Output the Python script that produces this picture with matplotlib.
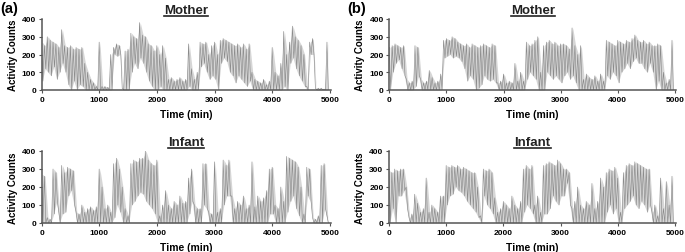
import numpy as np
import matplotlib
matplotlib.use("Agg")
import matplotlib.pyplot as plt
from matplotlib.lines import Line2D

plt.rcParams['font.family'] = ['Liberation Sans', 'DejaVu Sans']

# bin starts (minutes), 50-min bins; hi = peak, lo = trough
bin_minutes = list(range(0, 5000, 50))

a_mother_hi = [270, 250, 300, 280, 270, 260, 240, 340, 250, 240,
               250, 230, 240, 230, 240, 150, 100, 60, 40, 20,
               270, 20, 20, 15, 200, 240, 260, 250, 10, 220,
               230, 320, 300, 290, 380, 310, 300, 260, 250, 220,
               250, 200, 250, 180, 60, 70, 50, 60, 70, 50,
               60, 260, 120, 60, 100, 270, 260, 270, 200, 250,
               270, 200, 280, 290, 280, 270, 260, 250, 260, 240,
               260, 230, 260, 100, 60, 50, 40, 60, 30, 50,
               240, 100, 80, 150, 330, 200, 270, 360, 300, 280,
               250, 200, 20, 270, 290, 10, 10, 10, 5, 270]
a_mother_lo = [50, 120, 100, 80, 130, 60, 100, 150, 100, 30,
               0, 50, 0, 30, 20, 0, 0, 0, 0, 0,
               0, 0, 0, 0, 0, 200, 190, 200, 0, 0,
               0, 100, 150, 120, 180, 150, 100, 50, 20, 0,
               0, 20, 0, 0, 0, 0, 0, 0, 0, 0,
               0, 20, 0, 0, 0, 130, 150, 100, 60, 80,
               60, 0, 150, 180, 160, 100, 80, 40, 80, 60,
               40, 20, 50, 0, 0, 0, 0, 0, 0, 0,
               0, 0, 0, 0, 20, 0, 150, 180, 120, 80,
               50, 20, 0, 200, 200, 0, 0, 0, 0, 0]

b_mother_hi = [240, 250, 260, 250, 240, 250, 60, 40, 50, 250,
               240, 60, 40, 50, 110, 70, 40, 50, 90, 280,
               290, 280, 300, 290, 270, 260, 250, 260, 240, 260,
               250, 240, 250, 260, 250, 240, 260, 250, 40, 50,
               90, 40, 50, 40, 150, 50, 100, 50, 270, 250,
               260, 280, 300, 100, 250, 270, 280, 260, 270, 250,
               260, 260, 250, 230, 350, 250, 200, 250, 60, 90,
               70, 60, 80, 50, 90, 50, 280, 270, 260, 250,
               280, 270, 260, 280, 270, 290, 310, 280, 270, 280,
               260, 270, 250, 250, 260, 250, 100, 40, 60, 280]
b_mother_lo = [0, 100, 150, 170, 120, 80, 0, 0, 0, 20,
               80, 0, 0, 0, 0, 0, 0, 0, 0, 180,
               190, 200, 180, 190, 180, 160, 120, 50, 80, 60,
               0, 10, 30, 80, 60, 50, 60, 40, 0, 0,
               0, 0, 0, 0, 0, 0, 0, 0, 60, 100,
               80, 60, 0, 0, 0, 100, 80, 60, 80, 60,
               40, 80, 100, 60, 80, 40, 0, 0, 0, 0,
               0, 0, 0, 0, 0, 0, 80, 60, 100, 80,
               40, 100, 120, 150, 120, 160, 180, 150, 150, 120,
               100, 150, 100, 0, 50, 0, 0, 0, 0, 0]

a_infant_hi = [270, 260, 30, 20, 300, 280, 60, 320, 280, 310,
               300, 290, 60, 50, 100, 60, 80, 90, 70, 90,
               300, 200, 80, 100, 60, 330, 360, 300, 200, 80,
               40, 330, 350, 340, 360, 360, 400, 350, 330, 320,
               350, 40, 100, 180, 100, 80, 120, 100, 150, 110,
               120, 250, 300, 100, 80, 80, 330, 330, 60, 50,
               340, 60, 80, 350, 320, 350, 150, 80, 120, 100,
               150, 80, 100, 340, 90, 150, 120, 140, 180, 300,
               310, 100, 80, 200, 120, 370, 360, 350, 340, 310,
               200, 50, 310, 300, 30, 20, 40, 320, 330, 40]
a_infant_lo = [0, 0, 0, 0, 50, 120, 0, 50, 60, 150,
               180, 100, 0, 0, 0, 0, 0, 0, 0, 0,
               0, 0, 0, 0, 0, 30, 100, 60, 0, 0,
               0, 100, 120, 150, 170, 160, 120, 100, 80, 50,
               0, 0, 0, 0, 0, 0, 0, 0, 0, 0,
               0, 50, 120, 0, 0, 0, 100, 80, 0, 0,
               0, 0, 0, 100, 150, 150, 0, 0, 0, 0,
               0, 0, 0, 0, 0, 0, 0, 0, 0, 50,
               50, 0, 0, 0, 0, 60, 120, 150, 80, 40,
               0, 0, 150, 120, 0, 0, 0, 0, 80, 0]

b_infant_hi = [290, 280, 300, 290, 300, 300, 200, 30, 50, 160,
               110, 60, 80, 250, 60, 100, 80, 60, 150, 150,
               320, 310, 320, 310, 320, 300, 310, 300, 290, 280,
               280, 200, 40, 300, 290, 300, 280, 140, 60, 80,
               120, 100, 80, 150, 100, 80, 120, 300, 320, 300,
               320, 100, 150, 60, 320, 330, 340, 330, 320, 350,
               330, 300, 300, 280, 80, 120, 200, 100, 80, 120,
               100, 220, 80, 120, 250, 200, 280, 300, 290, 310,
               250, 60, 280, 320, 330, 320, 340, 330, 320, 310,
               300, 300, 60, 100, 40, 250, 80, 230, 100, 260]
b_infant_lo = [0, 80, 0, 150, 150, 180, 80, 0, 0, 0,
               0, 0, 0, 0, 0, 0, 0, 0, 0, 0,
               100, 150, 160, 200, 180, 170, 150, 120, 100, 80,
               60, 30, 0, 150, 100, 80, 50, 0, 0, 0,
               0, 0, 0, 0, 0, 0, 0, 60, 100, 80,
               50, 0, 0, 0, 50, 50, 80, 150, 120, 100,
               150, 150, 220, 100, 0, 0, 0, 0, 0, 0,
               0, 0, 0, 0, 0, 0, 60, 100, 50, 80,
               0, 0, 80, 100, 120, 150, 100, 80, 120, 100,
               60, 100, 0, 0, 0, 0, 0, 0, 0, 0]

x_ticks = [0, 1000, 2000, 3000, 4000, 5000]
y_ticks = [0, 100, 200, 300, 400]
titles = ["Mother", "Infant"]
panel_labels = ["(a)", "(b)"]

W, H = 685, 253
fig = plt.figure(figsize=(W / 100, H / 100), dpi=100)

def axrect(x0, y0, x1, y1):
    return [x0 / W, 1 - y1 / H, (x1 - x0) / W, (y1 - y0) / H]

rects = {
    ("a", 0): axrect(41.5, 20, 331, 91),
    ("b", 0): axrect(389.3, 20, 676.0, 91),
    ("a", 1): axrect(41.5, 152, 331, 224),
    ("b", 1): axrect(389.0, 152, 676.0, 224),
}
data = {
    ("a", 0): (a_mother_hi, a_mother_lo),
    ("b", 0): (b_mother_hi, b_mother_lo),
    ("a", 1): (a_infant_hi, a_infant_lo),
    ("b", 1): (b_infant_hi, b_infant_lo),
}

title_texts = []
for (col, row), rect in rects.items():
    ax = fig.add_axes(rect)
    hi, lo = data[(col, row)]
    bx = np.array(bin_minutes, dtype=float)
    xs = np.empty(2 * len(bx)); ys = np.empty(2 * len(bx))
    xs[0::2] = bx; xs[1::2] = bx + 25
    ys[0::2] = hi; ys[1::2] = lo
    ax.fill_between(bx + 12.5, lo, hi, color='#d6d6d6', lw=0)
    ax.plot(xs, ys, color='#8a8a8a', lw=0.45)
    ax.set_xlim(0, 5020)
    ax.set_ylim(0, 400)
    ax.set_xticks(x_ticks)
    ax.set_yticks(y_ticks)
    for s in ['top', 'right']:
        ax.spines[s].set_visible(False)
    for s in ['left', 'bottom']:
        ax.spines[s].set_color('#555555')
        ax.spines[s].set_linewidth(1.1)
    ax.tick_params(axis='both', labelsize=6, length=2, width=0.8, color='#555555', pad=2)
    for lab in ax.get_xticklabels() + ax.get_yticklabels():
        lab.set_fontweight('bold')
    ax.set_xlabel("Time (min)", fontsize=7.5, fontweight='bold', labelpad=5)
    ax.set_ylabel("Activity Counts", fontsize=7, fontweight='bold', labelpad=3)
    t = ax.set_title(titles[row], fontsize=9.5, fontweight='bold', pad=4, color='#222222')
    title_texts.append(t)

fig.text(0 / W, 1 - 2 / H, panel_labels[0], fontsize=10.5, fontweight='bold', va='top', ha='left')
fig.text(347 / W, 1 - 2 / H, panel_labels[1], fontsize=10.5, fontweight='bold', va='top', ha='left')

fig.canvas.draw()
r = fig.canvas.get_renderer()
for t in title_texts:
    bb = t.get_window_extent(r)
    y = bb.y0 + 0.5
    fig.add_artist(Line2D([bb.x0 / W, bb.x1 / W], [y / H, y / H], transform=fig.transFigure,
                          color='#222222', lw=1.2))

fig.savefig("out.png", dpi=100)
